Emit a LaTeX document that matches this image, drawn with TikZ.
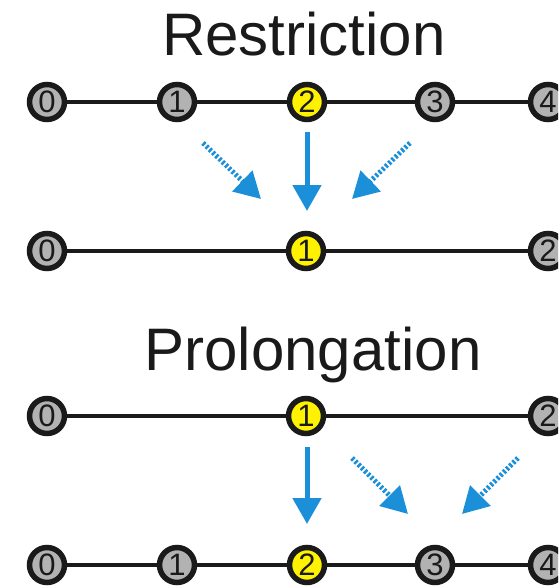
\documentclass[tikz,border=0pt]{standalone}
\usepackage{fontspec}
\setmainfont{Liberation Sans}
\usetikzlibrary{arrows.meta}
\definecolor{ink}{HTML}{1A1A1A}
\definecolor{nodegray}{HTML}{B2B2B2}
\definecolor{nodeyellow}{HTML}{FFF200}
\definecolor{arrowblue}{HTML}{1B8FD8}
\tikzset{
  gridpt/.style={circle, draw=ink, line width=5.5pt, minimum size=35pt, inner sep=0pt,
    fill=nodegray, text=ink, font=\fontsize{31}{31}\selectfont},
  hot/.style={gridpt, fill=nodeyellow},
  link/.style={draw=ink, line width=4.5pt},
  title/.style={text=ink, font=\fontsize{60}{60}\selectfont, inner sep=0pt, anchor=base},
  solidarrow/.style={draw=arrowblue, line width=5pt, -{Triangle[width=28pt,length=26pt,fill=arrowblue]}},
  dotarrow/.style={draw=arrowblue, line width=5pt, dash pattern=on 2.5pt off 2pt,
    -{Triangle[width=28pt,length=26pt,fill=arrowblue]}}
}
\begin{document}
\begin{tikzpicture}[x=1pt,y=-1pt]
\useasboundingbox (0,0) rectangle (558,587);
\clip (0,0) rectangle (558,587);
% Restriction
\node[title] (rtitle) at (304,55) {Restriction};
\node[gridpt] (a0) at (47,102) {0};
\node[gridpt] (a1) at (177,102) {1};
\node[hot] (a2) at (307,102) {2};
\node[gridpt] (a3) at (435,102) {3};
\node[gridpt] (a4) at (548,102) {4};
\node[gridpt] (b0) at (47,251) {0};
\node[hot] (b1) at (306,251) {1};
\node[gridpt] (b2) at (548,251) {2};
% Prolongation
\node[title] (ptitle) at (313,370) {Prolongation};
\node[gridpt] (c0) at (47,416) {0};
\node[hot] (c1) at (306,416) {1};
\node[gridpt] (c2) at (548,416) {2};
\node[gridpt] (d0) at (47,565) {0};
\node[gridpt] (d1) at (177,565) {1};
\node[hot] (d2) at (307,565) {2};
\node[gridpt] (d3) at (435,565) {3};
\node[gridpt] (d4) at (548,565) {4};
% links
\draw[link] (a0) -- (a1); \draw[link] (a1) -- (a2); \draw[link] (a2) -- (a3); \draw[link] (a3) -- (a4);
\draw[link] (b0) -- (b1); \draw[link] (b1) -- (b2);
\draw[link] (c0) -- (c1); \draw[link] (c1) -- (c2);
\draw[link] (d0) -- (d1); \draw[link] (d1) -- (d2); \draw[link] (d2) -- (d3); \draw[link] (d3) -- (d4);
% restriction arrows
\coordinate (rs1) at (307,132); \coordinate (rt1) at (307,211);
\coordinate (rs2) at (203,143); \coordinate (rt2) at (261,199);
\coordinate (rs3) at (410,143); \coordinate (rt3) at (352,199);
\draw[solidarrow] (rs1) -- (rt1);
\draw[dotarrow] (rs2) -- (rt2);
\draw[dotarrow] (rs3) -- (rt3);
% prolongation arrows
\coordinate (ps1) at (307,447); \coordinate (pt1) at (307,524);
\coordinate (ps2) at (352,458); \coordinate (pt2) at (408,514);
\coordinate (ps3) at (518,458); \coordinate (pt3) at (462,514);
\draw[solidarrow] (ps1) -- (pt1);
\draw[dotarrow] (ps2) -- (pt2);
\draw[dotarrow] (ps3) -- (pt3);
\end{tikzpicture}
\end{document}
